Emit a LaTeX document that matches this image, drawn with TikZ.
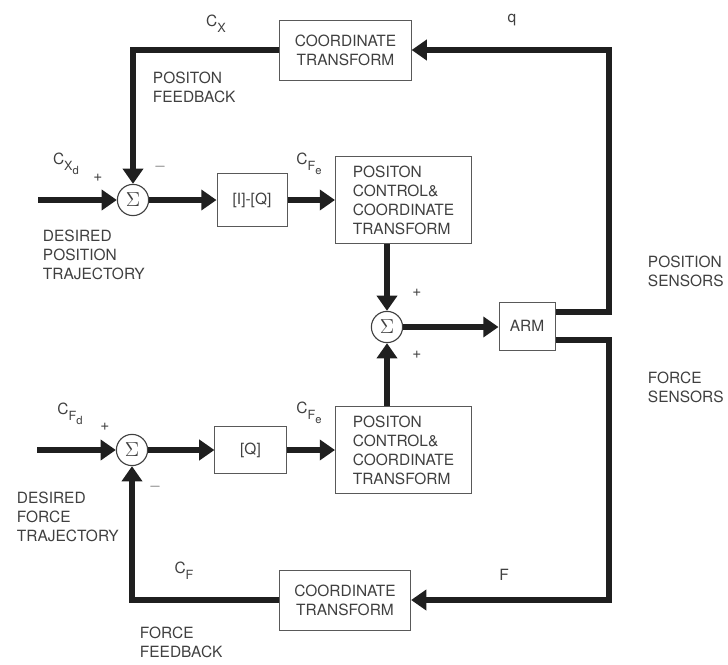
\documentclass[tikz,border=0pt]{standalone}
\usepackage{fontspec}
\setmainfont{TeX Gyre Heros}
\setsansfont{TeX Gyre Heros}
\usetikzlibrary{arrows.meta,positioning,calc}

% frame labels: C, then a lowered index, then a lowered sub-index
\newcommand{\frm}[2]{C\raisebox{-4pt}{\small #1\raisebox{-3pt}{\footnotesize #2}}}

\begin{document}
\begin{tikzpicture}[x=0.025cm, y=-0.025cm,
    every node/.style={text=black!75, font=\fontsize{11}{13.5}\selectfont},
    blk/.style={draw=black!65, line width=0.7pt, inner sep=0pt, align=center},
    sumnode/.style={draw=black!75, line width=0.8pt, circle, minimum size=0.78cm, inner sep=0pt, font=\Large},
    sig/.style={line width=4.2pt, draw=black!88, -{Triangle[length=0.38cm,width=0.5cm]}},
    lbl/.style={align=left, anchor=west}]

    \useasboundingbox (0,0) rectangle (728,664);

    % --- sizes of the boxes ---
                \def\wbig{3.4cm}   % position control boxes
                \def\hbig{2.18cm}
                \def\wct{3.28cm}   % coordinate transform boxes
                \def\hct{1.5cm}

    % --- summing junctions ---
                \node[sumnode] (sumX) at (133,200) {$\Sigma$};   % position error
                \node[sumnode] (sumA) at (387,327) {$\Sigma$};   % into the arm
                \node[sumnode] (sumF) at (132,450) {$\Sigma$};   % force error

    % --- blocks ---
                \node[blk, minimum width=\wct, minimum height=\hct] (ctTop) at (345.5,50) {COORDINATE\\TRANSFORM};
                \node[blk, minimum width=1.75cm, minimum height=1.33cm] (iq) at (252,200) {[I]-[Q]};
                \node[blk, minimum width=\wbig, minimum height=\hbig, align=left] (pcTop) at (403.5,200) {POSITON\\CONTROL\&\\COORDINATE\\TRANSFORM};
                \node[blk, minimum width=1.4cm, minimum height=1.2cm] (arm) at (527,326) {ARM};
                \node[blk, minimum width=1.78cm, minimum height=1.18cm] (qq) at (250.5,450) {[Q]};
                \node[blk, minimum width=\wbig, minimum height=\hbig, align=left] (pcBot) at (403.5,450) {POSITON\\CONTROL\&\\COORDINATE\\TRANSFORM};
                \node[blk, minimum width=\wct, minimum height=\hct] (ctBot) at (345,600) {COORDINATE\\TRANSFORM};

    % --- free ends and corners ---
                \coordinate (xdIn) at (38,200);
                \coordinate (fdIn) at (37,450);
                \coordinate (qTurn) at (609,50);
                \coordinate (fTurn) at (609,600);

    % --- forward paths ---
                \draw[sig] (xdIn) -- (sumX);
                \draw[sig] (sumX) -- (iq);
                \draw[sig] (iq) -- (pcTop);
                \draw[sig] (pcTop.south -| sumA) -- (sumA);
                \draw[sig] (fdIn) -- (sumF);
                \draw[sig] (sumF) -- (qq);
                \draw[sig] (qq) -- (pcBot);
                \draw[sig] (pcBot.north -| sumA) -- (sumA);
                \draw[sig] (sumA) -- (sumA -| arm.west);

    % --- feedback paths ---
                \draw[sig] ([yshift=0.35cm]arm.east) -| (qTurn) -- (ctTop.east);
                \draw[sig] (ctTop.west) -| (sumX.north);
                \draw[sig] ([yshift=-0.35cm]arm.east) -| (fTurn) -- (ctBot.east);
                \draw[sig] (ctBot.west) -| (sumF.south);

    % --- labels ---
                \node (lCx) at (216,26) {\frm{X}{}};
                \node (lq) at (512,20) {q};
                \node[lbl] (lPosFb) at (148,87) {POSITON\\FEEDBACK};
                \node (lCxd) at (66,164) {\frm{X}{d}};
                \node (pX) at (98,178) {+};
                \node (mX) at (160,167) {$-$};
                \node (lCfeT) at (309,164) {\frm{F}{e}};
                \node[lbl] (lDesPos) at (38,255) {DESIRED\\POSITION\\TRAJECTORY};
                \node (pA1) at (417,293) {+};
                \node (pA2) at (417,355) {+};
                \node[lbl] (lPosSen) at (643,271) {POSITION\\SENSORS};
                \node[lbl] (lForSen) at (643,387) {FORCE\\SENSORS};
                \node (lCfd) at (70,414) {\frm{F}{d}};
                \node (pF) at (105,427) {+};
                \node (lCfeB) at (309,413) {\frm{F}{e}};
                \node (mF) at (155,487) {$-$};
                \node[lbl] (lDesFor) at (12,517) {DESIRED\\FORCE\\TRAJECTORY};
                \node (lCf) at (184,573) {\frm{F}{}};
                \node (lF) at (504,575) {F};
                \node[lbl] (lForFb) at (135,642) {FORCE\\FEEDBACK};

\end{tikzpicture}
\end{document}
